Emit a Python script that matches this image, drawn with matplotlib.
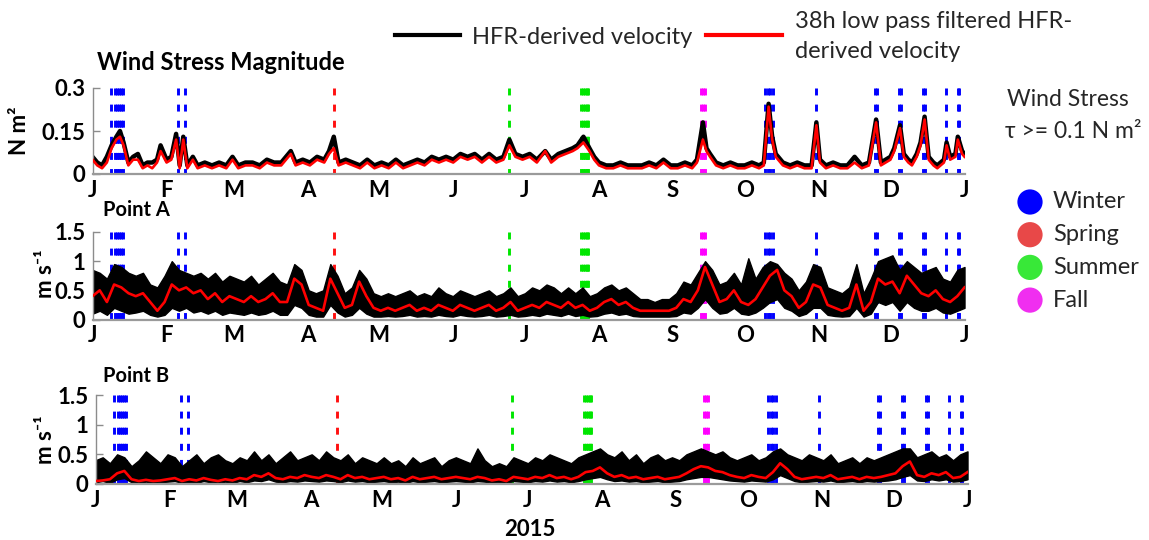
import numpy as np
import matplotlib
matplotlib.use('Agg')
import matplotlib.pyplot as plt

plt.rcParams['lines.scale_dashes'] = False
plt.rcParams['font.family'] = ['Lato', 'DejaVu Sans']

# ---------------- data ----------------
month_days = [0, 31, 59, 90, 120, 151, 181, 212, 243, 273, 304, 334, 365]
month_labels = ['J', 'F', 'M', 'A', 'M', 'J', 'J', 'A', 'S', 'O', 'N', 'D', 'J']
year_label = '2015'

# Wind stress magnitude (N m^2), day of year
ws_days = [0, 2, 4, 6, 8, 10, 11.5, 13, 15, 17, 19, 21, 23, 25, 27, 28.5, 31, 33, 35, 36.5,
           38, 39.7, 42, 44, 47, 50, 53, 56, 58.6, 61, 64, 67, 70, 73, 76, 79, 81, 83, 85, 88,
           91, 94, 97, 99, 101, 103, 106, 109, 112, 115, 118, 121, 124, 127, 130, 133, 136, 139, 142, 145,
           148, 151, 154, 157, 160, 163, 166, 169, 172, 174.5, 177, 180, 183, 186, 189.5, 192, 195, 198, 201, 203,
           205.5, 208, 210, 212, 215, 218, 221, 224, 227, 230, 233, 236, 239, 242, 245, 248, 251, 253, 255.5, 257,
           258.5, 261, 264, 267, 270, 273, 276, 279, 281, 283, 284.5, 286, 289, 292, 295, 298, 301, 303, 304.5, 307,
           310, 313, 316, 319, 322, 325, 328, 330, 332, 334, 335.6, 338, 339.6, 341.5, 343, 345, 346.6, 348.3, 350, 352,
           353.6, 355, 356.4, 357.5, 359, 361.2, 362.2, 364, 365]
ws_red = [0.05, 0.03, 0.02, 0.04, 0.09, 0.12, 0.13, 0.10, 0.03, 0.05, 0.05, 0.02, 0.03, 0.02, 0.04, 0.08, 0.04, 0.05, 0.12, 0.02,
          0.12, 0.02, 0.05, 0.02, 0.03, 0.02, 0.03, 0.02, 0.05, 0.02, 0.03, 0.03, 0.02, 0.04, 0.03, 0.03, 0.05, 0.07, 0.03, 0.04,
          0.03, 0.05, 0.04, 0.07, 0.09, 0.03, 0.04, 0.03, 0.02, 0.04, 0.02, 0.03, 0.02, 0.04, 0.02, 0.03, 0.04, 0.03, 0.05, 0.04,
          0.05, 0.04, 0.06, 0.05, 0.06, 0.04, 0.06, 0.04, 0.05, 0.10, 0.06, 0.05, 0.06, 0.04, 0.08, 0.04, 0.06, 0.07, 0.08, 0.09,
          0.11, 0.08, 0.05, 0.03, 0.02, 0.02, 0.03, 0.02, 0.02, 0.02, 0.03, 0.02, 0.04, 0.02, 0.02, 0.03, 0.02, 0.04, 0.12, 0.08,
          0.06, 0.03, 0.02, 0.03, 0.02, 0.02, 0.03, 0.02, 0.03, 0.235, 0.12, 0.06, 0.03, 0.02, 0.03, 0.02, 0.02, 0.17, 0.04, 0.02,
          0.03, 0.02, 0.02, 0.04, 0.02, 0.03, 0.18, 0.03, 0.04, 0.05, 0.08, 0.16, 0.06, 0.04, 0.03, 0.06, 0.10, 0.19, 0.05, 0.03,
          0.02, 0.03, 0.04, 0.10, 0.05, 0.06, 0.12, 0.07, 0.06]
ws_black = [0.06, 0.04, 0.03, 0.06, 0.10, 0.13, 0.15, 0.11, 0.04, 0.06, 0.07, 0.03, 0.04, 0.04, 0.05, 0.10, 0.05, 0.06, 0.14, 0.03,
            0.13, 0.03, 0.06, 0.03, 0.04, 0.03, 0.04, 0.03, 0.06, 0.03, 0.04, 0.04, 0.03, 0.05, 0.04, 0.04, 0.06, 0.08, 0.04, 0.05,
            0.04, 0.06, 0.05, 0.08, 0.13, 0.04, 0.05, 0.04, 0.03, 0.05, 0.03, 0.04, 0.03, 0.05, 0.03, 0.04, 0.05, 0.04, 0.06, 0.05,
            0.06, 0.05, 0.07, 0.06, 0.07, 0.05, 0.07, 0.05, 0.06, 0.12, 0.07, 0.06, 0.07, 0.05, 0.08, 0.05, 0.07, 0.08, 0.09, 0.10,
            0.13, 0.09, 0.06, 0.04, 0.03, 0.03, 0.04, 0.03, 0.03, 0.03, 0.04, 0.03, 0.05, 0.03, 0.03, 0.04, 0.03, 0.05, 0.18, 0.09,
            0.07, 0.04, 0.03, 0.04, 0.03, 0.03, 0.04, 0.03, 0.04, 0.245, 0.13, 0.07, 0.04, 0.03, 0.04, 0.03, 0.03, 0.18, 0.05, 0.03,
            0.04, 0.03, 0.03, 0.06, 0.03, 0.04, 0.19, 0.04, 0.05, 0.06, 0.09, 0.17, 0.07, 0.05, 0.04, 0.07, 0.11, 0.20, 0.06, 0.04,
            0.03, 0.04, 0.05, 0.11, 0.06, 0.07, 0.13, 0.08, 0.07]

# Point A speed (m s^-1), sampled every ~3 days: low-pass, raw upper and lower envelope
pa_red = [0.40, 0.50, 0.30, 0.60, 0.55, 0.45, 0.40, 0.45, 0.30, 0.15,
          0.30, 0.60, 0.50, 0.55, 0.45, 0.50, 0.35, 0.45, 0.30, 0.40,
          0.35, 0.30, 0.40, 0.30, 0.35, 0.45, 0.30, 0.30, 0.70, 0.60,
          0.25, 0.20, 0.15, 0.70, 0.45, 0.20, 0.25, 0.65, 0.40, 0.20,
          0.15, 0.20, 0.15, 0.20, 0.25, 0.15, 0.20, 0.15, 0.25, 0.20,
          0.15, 0.25, 0.20, 0.15, 0.20, 0.25, 0.15, 0.20, 0.30, 0.15,
          0.20, 0.25, 0.20, 0.30, 0.25, 0.20, 0.30, 0.20, 0.25, 0.15,
          0.20, 0.30, 0.35, 0.25, 0.30, 0.20, 0.15, 0.15, 0.15, 0.15,
          0.15, 0.20, 0.35, 0.30, 0.50, 0.90, 0.60, 0.30, 0.35, 0.50,
          0.30, 0.25, 0.35, 0.55, 0.75, 0.85, 0.50, 0.40, 0.20, 0.30,
          0.60, 0.55, 0.25, 0.20, 0.15, 0.20, 0.60, 0.15, 0.30, 0.70,
          0.60, 0.65, 0.45, 0.75, 0.60, 0.45, 0.40, 0.50, 0.35, 0.30,
          0.40, 0.55]
pa_hi = [0.85, 0.80, 0.70, 0.95, 0.90, 0.80, 0.75, 0.80, 0.60, 0.55,
         0.75, 1.00, 0.85, 0.80, 0.75, 0.80, 0.70, 0.80, 0.65, 0.75,
         0.70, 0.65, 0.75, 0.60, 0.70, 0.80, 0.65, 0.60, 0.95, 0.85,
         0.50, 0.45, 0.50, 0.95, 0.75, 0.45, 0.55, 0.85, 0.70, 0.45,
         0.40, 0.45, 0.40, 0.45, 0.50, 0.40, 0.45, 0.40, 0.55, 0.45,
         0.40, 0.50, 0.45, 0.40, 0.45, 0.50, 0.40, 0.45, 0.55, 0.40,
         0.45, 0.55, 0.50, 0.60, 0.55, 0.45, 0.55, 0.45, 0.55, 0.40,
         0.45, 0.55, 0.60, 0.50, 0.55, 0.45, 0.35, 0.35, 0.30, 0.35,
         0.35, 0.45, 0.65, 0.60, 0.80, 1.00, 0.85, 0.60, 0.65, 0.80,
         0.60, 1.05, 0.70, 0.90, 1.00, 0.95, 0.80, 0.70, 0.50, 0.65,
         0.95, 0.90, 0.55, 0.50, 0.45, 0.55, 0.95, 0.45, 0.70, 1.00,
         1.05, 1.10, 0.85, 1.00, 0.90, 0.80, 0.85, 0.90, 0.70, 0.65,
         0.85, 0.90]
pa_lo = [0.10, 0.15, 0.08, 0.20, 0.15, 0.10, 0.12, 0.15, 0.08, 0.05,
         0.08, 0.20, 0.15, 0.20, 0.12, 0.15, 0.10, 0.15, 0.08, 0.12,
         0.10, 0.08, 0.12, 0.08, 0.10, 0.15, 0.08, 0.08, 0.25, 0.20,
         0.08, 0.05, 0.05, 0.25, 0.12, 0.05, 0.08, 0.20, 0.10, 0.05,
         0.05, 0.06, 0.05, 0.06, 0.08, 0.05, 0.06, 0.05, 0.08, 0.06,
         0.05, 0.08, 0.06, 0.05, 0.06, 0.08, 0.05, 0.06, 0.08, 0.05,
         0.06, 0.08, 0.06, 0.10, 0.08, 0.06, 0.10, 0.06, 0.08, 0.05,
         0.06, 0.10, 0.12, 0.08, 0.10, 0.06, 0.05, 0.05, 0.05, 0.05,
         0.05, 0.06, 0.12, 0.10, 0.20, 0.35, 0.20, 0.10, 0.12, 0.20,
         0.10, 0.08, 0.12, 0.20, 0.30, 0.35, 0.20, 0.15, 0.06, 0.10,
         0.20, 0.20, 0.08, 0.06, 0.05, 0.06, 0.20, 0.05, 0.10, 0.30,
         0.25, 0.30, 0.15, 0.30, 0.20, 0.15, 0.15, 0.20, 0.12, 0.10,
         0.15, 0.20]

# Point B speed (m s^-1)
pb_red = [0.05, 0.06, 0.08, 0.18, 0.22, 0.08, 0.05, 0.07, 0.05, 0.06,
          0.08, 0.10, 0.05, 0.08, 0.06, 0.10, 0.07, 0.05, 0.08, 0.06,
          0.10, 0.08, 0.15, 0.12, 0.18, 0.10, 0.08, 0.12, 0.10, 0.15,
          0.12, 0.10, 0.15, 0.12, 0.08, 0.15, 0.10, 0.12, 0.08, 0.10,
          0.12, 0.08, 0.10, 0.06, 0.12, 0.08, 0.10, 0.12, 0.08, 0.10,
          0.12, 0.10, 0.08, 0.12, 0.10, 0.06, 0.08, 0.05, 0.12, 0.10,
          0.08, 0.12, 0.10, 0.15, 0.10, 0.12, 0.08, 0.12, 0.20, 0.22,
          0.28, 0.18, 0.12, 0.15, 0.10, 0.12, 0.08, 0.10, 0.12, 0.08,
          0.10, 0.12, 0.18, 0.25, 0.30, 0.28, 0.22, 0.20, 0.15, 0.12,
          0.10, 0.15, 0.12, 0.10, 0.20, 0.35, 0.25, 0.12, 0.08, 0.10,
          0.12, 0.10, 0.15, 0.08, 0.10, 0.12, 0.08, 0.12, 0.10, 0.12,
          0.15, 0.18, 0.30, 0.38, 0.15, 0.12, 0.18, 0.15, 0.20, 0.10,
          0.12, 0.20]
pb_hi = [0.40, 0.45, 0.35, 0.50, 0.45, 0.30, 0.40, 0.55, 0.45, 0.35,
         0.50, 0.45, 0.30, 0.40, 0.50, 0.35, 0.45, 0.50, 0.40, 0.35,
         0.45, 0.40, 0.55, 0.40, 0.50, 0.35, 0.45, 0.55, 0.40, 0.45,
         0.50, 0.40, 0.55, 0.45, 0.40, 0.50, 0.35, 0.45, 0.40, 0.35,
         0.45, 0.35, 0.40, 0.30, 0.45, 0.35, 0.40, 0.45, 0.30, 0.40,
         0.45, 0.40, 0.35, 0.60, 0.40, 0.30, 0.35, 0.30, 0.45, 0.40,
         0.35, 0.45, 0.40, 0.50, 0.45, 0.40, 0.35, 0.45, 0.50, 0.55,
         0.60, 0.50, 0.45, 0.55, 0.40, 0.50, 0.35, 0.45, 0.50, 0.40,
         0.45, 0.40, 0.50, 0.55, 0.60, 0.55, 0.50, 0.55, 0.45, 0.40,
         0.45, 0.50, 0.40, 0.45, 0.55, 0.60, 0.50, 0.45, 0.40, 0.50,
         0.45, 0.40, 0.50, 0.35, 0.40, 0.45, 0.35, 0.45, 0.40, 0.45,
         0.50, 0.55, 0.60, 0.60, 0.45, 0.50, 0.55, 0.45, 0.50, 0.40,
         0.50, 0.55]
pb_lo = [0.03, 0.05, 0.02, 0.08, 0.10, 0.03, 0.02, 0.04, 0.02, 0.03,
         0.04, 0.05, 0.02, 0.03, 0.02, 0.05, 0.03, 0.02, 0.04, 0.02,
         0.05, 0.03, 0.06, 0.05, 0.08, 0.04, 0.03, 0.05, 0.04, 0.06,
         0.05, 0.04, 0.06, 0.05, 0.03, 0.06, 0.04, 0.05, 0.03, 0.04,
         0.05, 0.03, 0.04, 0.02, 0.05, 0.03, 0.04, 0.05, 0.03, 0.04,
         0.05, 0.04, 0.03, 0.05, 0.04, 0.02, 0.03, 0.02, 0.05, 0.04,
         0.03, 0.05, 0.04, 0.06, 0.04, 0.05, 0.03, 0.05, 0.08, 0.10,
         0.12, 0.08, 0.05, 0.06, 0.04, 0.05, 0.03, 0.04, 0.05, 0.03,
         0.04, 0.05, 0.08, 0.10, 0.12, 0.12, 0.10, 0.08, 0.06, 0.05,
         0.04, 0.06, 0.05, 0.04, 0.08, 0.15, 0.10, 0.05, 0.03, 0.04,
         0.05, 0.04, 0.06, 0.03, 0.04, 0.05, 0.03, 0.05, 0.04, 0.05,
         0.06, 0.08, 0.12, 0.15, 0.06, 0.05, 0.08, 0.06, 0.08, 0.04,
         0.05, 0.08]

# Days with wind stress >= 0.1 N m^2, by season
winter_days = [7.6, 9.4, 10.2, 11.0, 11.8, 12.6, 35.8, 38.6, 281.4, 282.6, 283.6, 285.0,
               303.0, 327.6, 328.4, 337.6, 338.4, 347.6, 348.4, 357.4, 362.1, 362.9]
spring_days = [101.0]
summer_days = [174.5, 204.4, 205.2, 206.0, 206.8, 207.6]
fall_days = [254.8, 255.6, 256.4]

season_names = ['Winter', 'Spring', 'Summer', 'Fall']
season_event_days = [winter_days, spring_days, summer_days, fall_days]
season_line_colors = ['#0000FF', '#FF1010', '#00E600', '#FF00FF']
season_dot_colors = ['#0000FF', '#E84848', '#38E838', '#F02EF0']

# ---------------- figure ----------------
W, H = 1149, 540
fig = plt.figure(figsize=(W / 100, H / 100), dpi=100)


def px_axes(left, top, right, bottom):
    return fig.add_axes([left / W, 1 - bottom / H, (right - left) / W, (bottom - top) / H])


def style(ax, ymax, yticks, yticklabels):
    ax.set_xlim(0, 365)
    ax.set_ylim(0, ymax)
    for s in ['top', 'right']:
        ax.spines[s].set_visible(False)
    ax.spines['left'].set_color('#8c8c8c')
    ax.spines['left'].set_linewidth(1.0)
    ax.spines['bottom'].set_color('#9a9a9a')
    ax.spines['bottom'].set_linewidth(1.6)
    ax.set_yticks(yticks, yticklabels, fontweight='bold', fontsize=16)
    ax.set_xticks(month_days, month_labels, fontweight='bold', fontsize=16)
    ax.tick_params(axis='y', direction='in', length=5, width=1, color='#8c8c8c', pad=5)
    ax.tick_params(axis='x', length=0, pad=4)
    for days, col in zip(season_event_days, season_line_colors):
        for d in days:
            ax.plot([d, d], [ymax, 0], color=col, lw=2.1, dashes=(5, 6.6),
                    solid_capstyle='butt', dash_capstyle='butt', zorder=1)


ax1 = px_axes(92.5, 88, 964.5, 174)
style(ax1, 0.3, [0, 0.15, 0.3], ['0', '0.15', '0.3'])
ax1.plot(ws_days, ws_black, color='black', lw=3.2, zorder=2)
ax1.plot(ws_days, ws_red, color='#FF0000', lw=1.9, zorder=3)

ax2 = px_axes(92.5, 232, 964.5, 319.5)
style(ax2, 1.5, [0, 0.5, 1, 1.5], ['0', '0.5', '1', '1.5'])
ta = np.linspace(0, 365, len(pa_red))
ax2.fill_between(ta, pa_lo, pa_hi, facecolor='black', edgecolor='black', lw=1.0, zorder=2)
ax2.plot(ta, pa_red, color='#FF0000', lw=1.9, zorder=3)

ax3 = px_axes(95.5, 395, 967.5, 484)
style(ax3, 1.5, [0, 0.5, 1, 1.5], ['0', '0.5', '1', '1.5'])
tb = np.linspace(0, 365, len(pb_red))
ax3.fill_between(tb, pb_lo, pb_hi, facecolor='black', edgecolor='black', lw=1.0, zorder=2)
ax3.plot(tb, pb_red, color='#FF0000', lw=1.9, zorder=3)

# ---------------- overlay text / legends ----------------
ov = fig.add_axes([0, 0, 1, 1])
ov.set_xlim(0, W)
ov.set_ylim(H, 0)
ov.axis('off')

ov.text(97, 63, 'Wind Stress Magnitude', fontsize=17, fontweight='bold', ha='left', va='center')
ov.text(103, 210, 'Point A', fontsize=14.5, fontweight='bold', ha='left', va='center')
ov.text(103, 376, 'Point B', fontsize=14.5, fontweight='bold', ha='left', va='center')
ov.text(530, 529, year_label, fontsize=16, fontweight='bold', ha='center', va='center')

ov.text(20, 131, 'N m²', fontsize=16, fontweight='bold', rotation=90, ha='center', va='center')
ov.text(45, 274, 'm s⁻¹', fontsize=16, fontweight='bold', rotation=90, ha='center', va='center')
ov.text(45, 440, 'm s⁻¹', fontsize=16, fontweight='bold', rotation=90, ha='center', va='center')

# series legend
ov.plot([395, 460], [35, 35], color='black', lw=3)
ov.text(472, 37, 'HFR-derived velocity', fontsize=17, color='#262626', ha='left', va='center')
ov.plot([706, 782], [35, 35], color='#FF0000', lw=3)
ov.text(795, 22, '38h low pass filtered HFR-', fontsize=17, color='#262626', ha='left', va='center')
ov.text(795, 51, 'derived velocity', fontsize=17, color='#262626', ha='left', va='center')

# season legend
ov.text(1007, 100, 'Wind Stress', fontsize=16.5, color='#262626', ha='left', va='center')
ov.text(1005, 131, 'τ >= 0.1 N m²', fontsize=16.5, color='#262626', ha='left', va='center')
for i, (name, col) in enumerate(zip(season_names, season_dot_colors)):
    y = 202 + 32.7 * i
    ov.scatter([1030], [y], s=330, color=col, edgecolors='none')
    ov.text(1053, y, name, fontsize=17, color='#262626', ha='left', va='center')

fig.savefig('out.png', dpi=100)
